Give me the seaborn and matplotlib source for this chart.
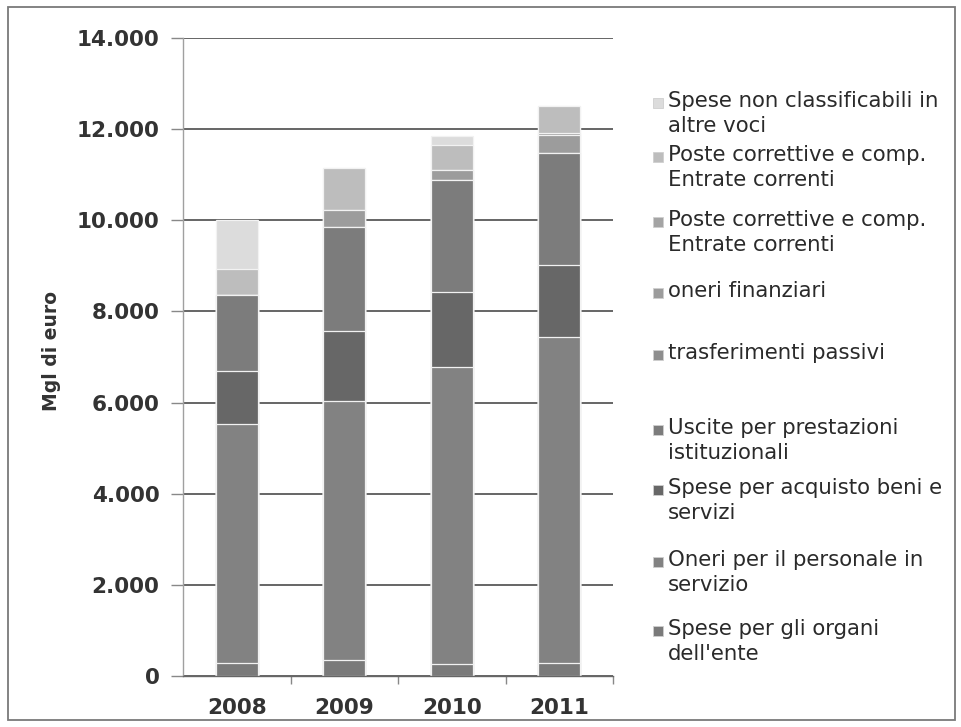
import matplotlib
matplotlib.use("Agg")
import matplotlib.pyplot as plt
from matplotlib.patches import Rectangle
from matplotlib.ticker import FixedLocator
import numpy as np
import seaborn as sns

# ---- data (thousands of euro) ----
years = ["2008", "2009", "2010", "2011"]

series_labels = [
    "Spese per gli organi\ndell'ente",
    "Oneri per il personale in\nservizio",
    "Spese per acquisto beni e\nservizi",
    "Uscite per prestazioni\nistituzionali",
    "trasferimenti passivi",
    "oneri finanziari",
    "Poste correttive e comp.\nEntrate correnti",
    "Poste correttive e comp.\nEntrate correnti",
    "Spese non classificabili in\naltre voci",
]

organi = [290, 350, 264, 293]
personale = [5240, 5690, 6516, 7147]
beni_servizi = [1170, 1540, 1650, 1570]
prestazioni = [1650, 2280, 2460, 2460]
trasferimenti = [0, 0, 0, 0]
oneri_finanziari = [0, 370, 220, 410]
poste_correttive_a = [0, 0, 0, 30]
poste_correttive_b = [590, 920, 540, 590]
non_classificabili = [1060, 0, 190, 0]

y_ticks = [0, 2000, 4000, 6000, 8000, 10000, 12000, 14000]

series_colors = ["#7a7a7a", "#828282", "#676767", "#7c7c7c", "#8e8e8e",
                 "#9c9c9c", "#a4a4a4", "#bdbdbd", "#dcdcdc"]

# ---- figure ----
sns.set_theme(style="white")
plt.rcParams["font.family"] = ["DejaVu Sans"]

W, H = 961, 727
fig = plt.figure(figsize=(W / 100, H / 100), dpi=100)
ax = fig.add_axes([183 / W, 51 / H, 430 / W, 638 / H])

stack = np.array([organi, personale, beni_servizi, prestazioni, trasferimenti,
                  oneri_finanziari, poste_correttive_a, poste_correttive_b,
                  non_classificabili], dtype=float)
cumulative = stack.cumsum(axis=0)

# stacked bars: draw running totals from the top layer downwards
for i in reversed(range(len(stack))):
    sns.barplot(x=years, y=cumulative[i], order=years, color=series_colors[i],
                saturation=1, width=0.39, edgecolor="#f2f2f2", linewidth=0.9,
                ax=ax, zorder=2)

ax.set_xlim(-0.5, 3.5)
ax.set_ylim(0, 14000)
ax.set_yticks(y_ticks)
ax.set_yticklabels([f"{v:,}".replace(",", ".") for v in y_ticks])
ax.set_axisbelow(True)
ax.yaxis.grid(True, color="#3c3c3c", linewidth=1.1)
ax.xaxis.grid(False)

for side in ("top", "right"):
    ax.spines[side].set_visible(False)
ax.spines["left"].set_color("#a0a0a0")
ax.spines["left"].set_linewidth(1.0)
ax.spines["bottom"].set_color("#666666")
ax.spines["bottom"].set_linewidth(1.0)

ax.tick_params(axis="y", which="major", length=9, width=1, color="#888888",
               direction="out", pad=8, labelsize=15.5, labelcolor="#333333", left=True)
ax.tick_params(axis="x", which="major", length=0, pad=16, labelsize=15.5,
               labelcolor="#333333")
ax.xaxis.set_minor_locator(FixedLocator([0.5, 1.5, 2.5, 3.5]))
ax.tick_params(axis="x", which="minor", length=6, width=1, color="#888888",
               direction="out", bottom=True)
for lbl in ax.get_yticklabels() + ax.get_xticklabels():
    lbl.set_fontweight("bold")

ax.set_xlabel("")
ax.set_ylabel("Mgl di euro", fontsize=13.5, fontweight="bold", color="#333333")
ax.yaxis.set_label_coords(-0.284, 0.51)

# ---- legend (top entry = top of the stack) ----
legend_rows = [103, 157, 222, 293, 355, 430, 490, 562, 631]
for row, idx in zip(legend_rows, reversed(range(len(series_labels)))):
    fig.patches.append(Rectangle((653 / W, 1 - (row + 5) / H), 10 / W, 10 / H,
                                 transform=fig.transFigure,
                                 facecolor=series_colors[idx],
                                 edgecolor="#cfcfcf", linewidth=0.6))
    fig.text(668 / W, 1 - (row - 12) / H, series_labels[idx], ha="left", va="top",
             fontsize=15.3, color="#2a2a2a", linespacing=1.32)

# outer frame
fig.patches.append(Rectangle((8 / W, 7 / H), 947 / W, 713 / H,
                             transform=fig.transFigure, fill=False,
                             edgecolor="#7a7a7a", linewidth=1.3))

fig.savefig("out.png", dpi=100, facecolor="white")
